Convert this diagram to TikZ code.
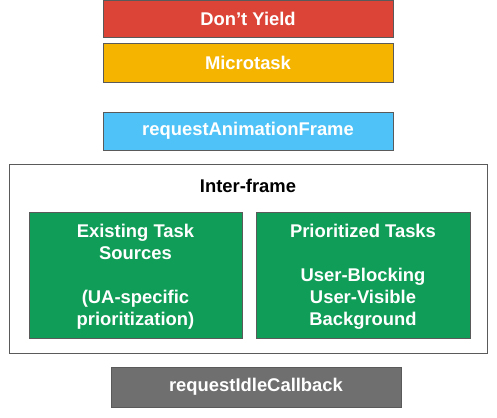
\documentclass[tikz,border=0pt]{standalone}
\usepackage{fontspec}
\setmainfont{Liberation Sans}
\definecolor{gred}{HTML}{DB4437}
\definecolor{gyellow}{HTML}{F4B400}
\definecolor{gblue}{HTML}{4FC3F7}
\definecolor{ggreen}{HTML}{0F9D58}
\definecolor{ggray}{HTML}{6F6F6F}
\definecolor{edge}{HTML}{5A5A5A}
\begin{document}
\begin{tikzpicture}[x=1pt,y=-1pt,
  box/.style={draw=edge,line width=0.8pt},
  lbl/.style={font=\fontsize{18.4}{22}\selectfont\bfseries,text=white,align=center,inner sep=0pt},
]
\useasboundingbox (0,0) rectangle (497,417);
\draw[box,fill=gred] (103,0.5) rectangle (393,37) node[midway,lbl] (dy) {Don’t Yield};
\draw[box,fill=gyellow] (103,43) rectangle (393,82) node[midway,lbl] (mt) {Microtask};
\draw[box,fill=gblue] (103,112) rectangle (393,150) node[midway,lbl] (raf) {requestAnimationFrame};
\draw[box,fill=white] (9,164) rectangle (487,353);
\node[lbl,text=black] (inter) at (248,186) {Inter-frame};
\draw[box,fill=ggreen] (29,212) rectangle (242,338);
\node[lbl] (ets) at (135.5,277) {Existing Task\\Sources\\[22pt](UA-specific\\prioritization)};
\draw[box,fill=ggreen] (256,212) rectangle (470,338);
\node[lbl] (pt) at (363,277) {Prioritized Tasks\\[22pt]User-Blocking\\User-Visible\\Background};
\draw[box,fill=ggray] (111,367) rectangle (401,407) node[midway,lbl] (ric) {requestIdleCallback};
\end{tikzpicture}
\end{document}
